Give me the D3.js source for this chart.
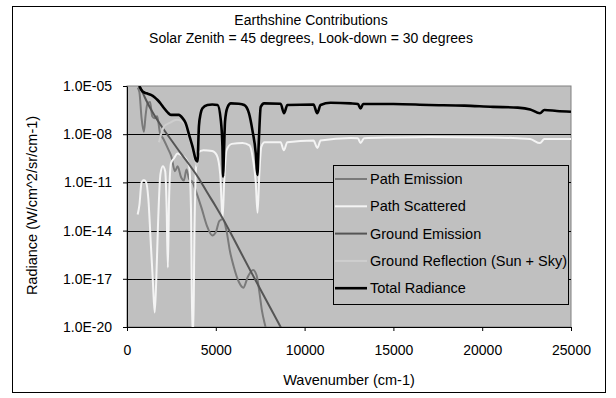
<!DOCTYPE html>
<html>
<head>
<meta charset="utf-8">
<script src="https://cdn.jsdelivr.net/npm/d3@7"></script>
<style>
  body { margin: 0; background: #fff; }
  svg { display: block; font-family: "Liberation Sans", Arial, sans-serif; }
</style>
</head>
<body>
<svg id="chart" width="616" height="398"></svg>
<script>
// ---- data (wavenumber cm-1, radiance W/cm^2/sr/cm-1) ----
const titleLines = ['Earthshine Contributions', 'Solar Zenith = 45 degrees, Look-down = 30 degrees'];
const seriesNames = ['Path Emission', 'Path Scattered', 'Ground Emission', 'Ground Reflection (Sun + Sky)', 'Total Radiance'];
const xTicks = [0, 5000, 10000, 15000, 20000, 25000];
const yTicks = [1e-5, 1e-8, 1e-11, 1e-14, 1e-17, 1e-20];

const pathEmissionWn = [600, 700, 820, 950, 1050, 1150, 1300, 1420, 1550, 1700, 1850, 2050, 2300, 2500, 2700, 2850, 3050, 3200, 3350, 3500, 3700, 3900, 4200, 4500, 4800, 5000, 5200, 5400, 5600, 5800, 6000, 6300, 6550, 6800, 7100, 7300, 7450, 7600, 7800, 7900];
const pathEmission = [7.9e-6, 4.0e-6, 1.0e-7, 1.4e-8, 1.6e-7, 7.9e-7, 1.0e-6, 1.3e-7, 1.0e-7, 1.3e-7, 1.3e-8, 5.0e-9, 1.3e-9, 4.0e-10, 5.0e-11, 1.0e-10, 2.0e-11, 1.3e-11, 6.3e-11, 1.6e-11, 1.0e-11, 2.5e-12, 2.5e-13, 2.0e-14, 5.0e-15, 7.9e-15, 4.0e-14, 5.0e-14, 1.0e-14, 5.0e-16, 6.3e-17, 6.3e-18, 2.8e-18, 1.3e-17, 3.5e-17, 1.6e-17, 1.6e-18, 1.0e-19, 1.0e-20, 3.2e-21];

const pathScatteredWn = [600, 700, 820, 950, 1080, 1200, 1350, 1450, 1560, 1650, 1750, 1880, 2020, 2150, 2230, 2300, 2370, 2480, 2650, 2850, 3050, 3300, 3500, 3600, 3680, 3730, 3800, 3880, 3990, 4300, 4800, 5050, 5250, 5380, 5470, 5600, 5900, 6500, 6900, 7100, 7250, 7350, 7450, 7560, 7750, 8650, 8830, 9030, 10500, 10720, 10900, 12600, 13000, 13150, 13350, 15000, 17000, 20600, 22000, 22700, 23250, 23500, 25000];
const pathScattered = [1.0e-13, 4.0e-13, 1.0e-11, 1.4e-11, 1.0e-11, 1.0e-12, 1.0e-15, 1.0e-17, 7.9e-20, 1.0e-17, 3.2e-14, 3.2e-11, 1.0e-10, 5.0e-11, 3.2e-13, 5.0e-17, 1.0e-12, 1.6e-10, 3.2e-10, 6.3e-10, 5.0e-10, 3.2e-10, 1.0e-10, 3.2e-13, 3.2e-21, 3.2e-21, 1.0e-14, 6.3e-11, 6.8e-10, 1.0e-9, 8.9e-10, 5.0e-10, 3.2e-11, 6.3e-14, 1.0e-11, 1.0e-9, 2.5e-9, 2.8e-9, 2.0e-9, 2.5e-10, 1.0e-11, 1.3e-13, 3.2e-11, 1.6e-9, 3.2e-9, 3.2e-9, 1.0e-9, 3.2e-9, 4.0e-9, 1.4e-9, 4.0e-9, 5.8e-9, 5.6e-9, 2.8e-9, 5.6e-9, 6.3e-9, 6.8e-9, 6.3e-9, 5.6e-9, 5.0e-9, 2.8e-9, 5.0e-9, 5.0e-9];

const groundEmissionWn = [650, 800, 1000, 1200, 1400, 2000, 2500, 3000, 3500, 4000, 4500, 5000, 5500, 6000, 7000, 8000, 8700];
const groundEmission = [1.3e-5, 6.3e-6, 2.0e-6, 7.1e-7, 2.8e-7, 2.5e-8, 4.2e-9, 7.1e-10, 1.3e-10, 2.1e-11, 2.5e-12, 3.2e-13, 3.5e-14, 3.2e-15, 2.5e-17, 2.2e-19, 7.9e-21];

const groundReflectionWn = [1800, 2100, 2400, 2800, 3100, 3300, 3500, 3700, 3900, 3970, 4050, 4150, 4250, 4530, 4800, 5100, 5280, 5375, 5410, 5450, 5520, 5650, 5850, 6300, 6600, 6870, 7060, 7250, 7340, 7420, 7530, 7720, 8650, 8840, 9030, 10500, 10710, 10900, 11460, 12600, 13000, 13150, 13300, 15000, 17000, 19000, 20600, 22000, 22700, 23250, 23500, 24200, 25000];
const groundReflection = [3.2e-9, 3.2e-8, 5.0e-8, 7.9e-8, 6.3e-8, 3.2e-8, 6.3e-9, 1.0e-9, 1.3e-10, 1.0e-10, 2.5e-8, 1.8e-7, 3.8e-7, 6.3e-7, 6.8e-7, 6.3e-7, 7.1e-8, 1.3e-9, 1.6e-11, 2.5e-10, 5.6e-8, 4.3e-7, 7.9e-7, 7.6e-7, 6.3e-7, 1.9e-7, 1.7e-8, 5.0e-10, 2.0e-11, 2.5e-9, 4.8e-7, 7.9e-7, 7.6e-7, 1.9e-7, 6.3e-7, 6.8e-7, 1.9e-7, 6.3e-7, 8.7e-7, 7.9e-7, 7.2e-7, 3.8e-7, 7.2e-7, 7.2e-7, 6.3e-7, 5.8e-7, 4.8e-7, 4.3e-7, 3.4e-7, 1.9e-7, 3.0e-7, 2.7e-7, 2.4e-7];

const totalWn = [690, 880, 1100, 1350, 1550, 1720, 1900, 2080, 2300, 2470, 2700, 2920, 3130, 3300, 3500, 3690, 3880, 3970, 4050, 4150, 4250, 4530, 4800, 5100, 5280, 5375, 5410, 5450, 5520, 5650, 5850, 6300, 6600, 6870, 7060, 7250, 7340, 7420, 7530, 7720, 8650, 8840, 9030, 10500, 10710, 10900, 11460, 12600, 13000, 13150, 13300, 15000, 17000, 19000, 20600, 22000, 22700, 23250, 23500, 24200, 25000];
const totalRadiance = [1.0e-5, 4.5e-6, 3.5e-6, 2.8e-6, 2.0e-6, 1.35e-6, 7.9e-7, 4.3e-7, 2.2e-7, 1.6e-7, 1.6e-7, 1.6e-7, 1.0e-7, 5.0e-8, 8.9e-9, 1.7e-9, 2.5e-10, 2.0e-10, 3.2e-8, 2.0e-7, 4.1e-7, 6.6e-7, 7.1e-7, 6.6e-7, 7.9e-8, 1.6e-9, 2.3e-11, 3.2e-10, 6.3e-8, 4.5e-7, 8.3e-7, 7.9e-7, 6.6e-7, 2.0e-7, 1.8e-8, 6.3e-10, 2.9e-11, 3.2e-9, 5.0e-7, 8.3e-7, 7.9e-7, 2.0e-7, 6.6e-7, 7.1e-7, 2.0e-7, 6.6e-7, 9.1e-7, 8.3e-7, 7.6e-7, 4.0e-7, 7.6e-7, 7.6e-7, 6.6e-7, 6.0e-7, 5.0e-7, 4.5e-7, 3.5e-7, 2.0e-7, 3.2e-7, 2.8e-7, 2.5e-7];

// ---- layout ----
const margin = { top: 86, right: 45, bottom: 71, left: 127 };
const W = 616, H = 398;
const width = W - margin.left - margin.right;
const height = H - margin.top - margin.bottom;
const fontSize = '14px';

const svg = d3.select('#chart');

// chart area border
svg.append('rect')
  .attr('x', 12.5).attr('y', 6.5)
  .attr('width', 593).attr('height', 386)
  .attr('fill', '#fff').attr('stroke', '#000');

// title
svg.append('text')
  .attr('x', 311).attr('y', 25)
  .attr('text-anchor', 'middle')
  .style('font-size', fontSize)
  .selectAll('tspan')
  .data(titleLines)
  .enter().append('tspan')
  .attr('x', 311)
  .attr('dy', (d, i) => i === 0 ? 0 : 18)
  .text(d => d);

const g = svg.append('g')
  .attr('transform', `translate(${margin.left},${margin.top})`);

const x = d3.scaleLinear().domain([0, 25000]).range([0, width]);
const y = d3.scaleLog().domain([1e-20, 1e-5]).range([height, 0]);

// plot area
g.append('rect')
  .attr('width', width).attr('height', height)
  .attr('fill', '#c0c0c0').attr('stroke', '#808080');

// gridlines
g.append('g')
  .selectAll('line')
  .data(yTicks.filter(d => d > 1e-20 && d < 1e-5))
  .enter().append('line')
  .attr('x1', 0).attr('x2', width)
  .attr('y1', d => Math.round(y(d)) + 0.5).attr('y2', d => Math.round(y(d)) + 0.5)
  .attr('stroke', '#000');

g.append('clipPath').attr('id', 'clip')
  .append('rect').attr('width', width).attr('height', height);

const series = [
  { name: seriesNames[0], wn: pathEmissionWn, v: pathEmission, color: '#7a7a7a', w: 2 },
  { name: seriesNames[1], wn: pathScatteredWn, v: pathScattered, color: '#f4f4f4', w: 2 },
  { name: seriesNames[2], wn: groundEmissionWn, v: groundEmission, color: '#555555', w: 2 },
  { name: seriesNames[3], wn: groundReflectionWn, v: groundReflection, color: '#cecece', w: 2 },
  { name: seriesNames[4], wn: totalWn, v: totalRadiance, color: '#000000', w: 2.6 }
];

const line = d3.line()
  .x(d => x(d[0]))
  .y(d => y(d[1]))
  .curve(d3.curveMonotoneX);

g.append('g')
  .attr('clip-path', 'url(#clip)')
  .selectAll('path')
  .data(series)
  .enter().append('path')
  .attr('fill', 'none')
  .attr('stroke', d => d.color)
  .attr('stroke-width', d => d.w)
  .attr('stroke-linejoin', 'round')
  .attr('d', d => line(d.wn.map((wn, i) => [wn, d.v[i]])));

// axes
const expFormat = d => {
  const e = Math.round(Math.log10(d));
  return '1.0E' + (e < 0 ? '-' : '+') + String(Math.abs(e)).padStart(2, '0');
};

const yAxis = g.append('g')
  .call(d3.axisLeft(y).tickValues(yTicks).tickFormat(expFormat).tickSize(4).tickSizeOuter(0).tickPadding(11));
const xAxis = g.append('g')
  .attr('transform', `translate(0,${height})`)
  .call(d3.axisBottom(x).tickValues(xTicks).tickFormat(d3.format('d')).tickSize(4).tickSizeOuter(0).tickPadding(14));

[yAxis, xAxis].forEach(a => {
  a.selectAll('text').style('font-size', fontSize).style('font-family', '"Liberation Sans", Arial, sans-serif').attr('fill', '#000');
  a.selectAll('line').attr('stroke', '#000');
  a.select('.domain').attr('stroke', '#000');
});

// axis titles
svg.append('text')
  .attr('x', margin.left + width / 2).attr('y', 385)
  .attr('text-anchor', 'middle')
  .style('font-size', '14.5px')
  .text('Wavenumber (cm-1)');

svg.append('text')
  .attr('transform', `translate(37,${margin.top + height / 2 - 1}) rotate(-90)`)
  .attr('text-anchor', 'middle')
  .style('font-size', '14.5px')
  .text('Radiance (W/cm^2/sr/cm-1)');

// legend
const legend = svg.append('g').attr('transform', 'translate(333,165)');
legend.append('rect')
  .attr('x', 0.5).attr('y', 0.5)
  .attr('width', 235).attr('height', 139)
  .attr('fill', '#c0c0c0').attr('stroke', '#000');

const item = legend.selectAll('.item')
  .data(series)
  .enter().append('g')
  .attr('transform', (d, i) => `translate(0,${14 + i * 27.3})`);
item.append('line')
  .attr('x1', 2).attr('x2', 34)
  .attr('stroke', d => d.color)
  .attr('stroke-width', d => d.w);
item.append('text')
  .attr('x', 37).attr('dy', '0.35em')
  .style('font-size', '14.5px')
  .text(d => d.name);
</script>
</body>
</html>
